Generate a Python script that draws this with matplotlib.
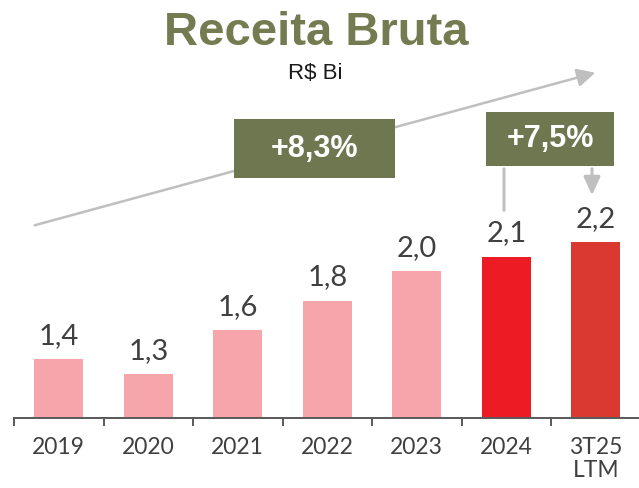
import matplotlib
matplotlib.use("Agg")
import matplotlib.pyplot as plt
from matplotlib.patches import FancyArrowPatch, Rectangle

# Data (R$ bilhões)
categories = ["2019", "2020", "2021", "2022", "2023", "2024", "3T25\nLTM"]
values = [1.4, 1.3, 1.6, 1.8, 2.0, 2.1, 2.2]
value_labels = ["1,4", "1,3", "1,6", "1,8", "2,0", "2,1", "2,2"]
bar_colors = ["#F6A5AA", "#F6A5AA", "#F6A5AA", "#F6A5AA", "#F6A5AA", "#ED1B24", "#D9392E"]
cagr_label = "+8,3%"
yoy_label = "+7,5%"

W, H = 639, 488
fig = plt.figure(figsize=(W / 100, H / 100), dpi=100)
fig.patch.set_facecolor("white")


def fp(x, y):
    """Pixel position (from top-left) to figure fraction."""
    return (x / W, 1 - y / H)


num_font = dict(family=["Lato", "DejaVu Sans"], fontweight="normal", color="#404040")

ax = fig.add_axes([14 / W, 70 / H, 626.5 / W, 418 / H])
ax.set_xlim(-0.5, 6.5)
ax.set_ylim(1.0, 1.0 + 418 / 146.7)
ax.patch.set_alpha(0)

x = list(range(len(categories)))
ax.bar(x, values, width=0.547, color=bar_colors, zorder=2)

for xi, v, lab in zip(x, values, value_labels):
    ax.annotate(lab, (xi, v), xytext=(0, 11), textcoords="offset points",
                ha="center", va="baseline", fontsize=21, **num_font)

for s in ["left", "right", "top"]:
    ax.spines[s].set_visible(False)
ax.spines["bottom"].set_color("#595959")
ax.spines["bottom"].set_linewidth(1.4)
ax.set_yticks([])
ax.set_xticks(x)
ax.set_xticklabels(categories, fontsize=16.5, linespacing=1.1,
                   fontfamily=["Lato", "DejaVu Sans"], fontweight="normal", color="#404040")
ax.tick_params(axis="x", which="major", length=0, pad=14)
ax.set_xticks([i - 0.5 for i in range(len(categories))], minor=True)
ax.tick_params(axis="x", which="minor", length=6, width=1.4, color="#595959", direction="out")

# Title
fig.text(*fp(316.5, 45), "Receita Bruta", ha="center", va="baseline",
         fontsize=34, fontweight="bold", family="Liberation Sans", color="#747B51")
fig.text(*fp(315, 79), "R$ Bi", ha="center", va="baseline",
         fontsize=16, family="Liberation Sans", color="#1A1A1A")

arrow_color = "#BFBFBF"
box_color = "#6F7751"

# Long-term growth arrow
trend = FancyArrowPatch(fp(32, 226), fp(598, 72), transform=fig.transFigure,
                        arrowstyle="-|>,head_length=11,head_width=5.5",
                        color=arrow_color, linewidth=1.8, zorder=3)
fig.add_artist(trend)

# CAGR box
x0, y0 = fp(234, 178)
fig.add_artist(Rectangle((x0, y0), (395 - 234) / W, (178 - 119) / H,
                         transform=fig.transFigure, facecolor=box_color,
                         edgecolor="none", zorder=4))
fig.text(*fp(314.5, 149), cagr_label, ha="center", va="center", fontsize=22,
         fontweight="bold", family="Liberation Sans", color="white", zorder=5)

# Year-over-year box and connectors
x1, y1 = fp(486, 166)
fig.add_artist(Rectangle((x1, y1), (614 - 486) / W, (166 - 112) / H,
                         transform=fig.transFigure, facecolor=box_color,
                         edgecolor="none", zorder=4))
fig.text(*fp(550, 139), yoy_label, ha="center", va="center", fontsize=22,
         fontweight="bold", family="Liberation Sans", color="white", zorder=5)

fig.add_artist(FancyArrowPatch(fp(504, 166), fp(504, 213), transform=fig.transFigure,
                               arrowstyle="-", color=arrow_color, linewidth=2.2, zorder=3))
fig.add_artist(FancyArrowPatch(fp(592, 166), fp(592, 198), transform=fig.transFigure,
                               arrowstyle="-|>,head_length=11,head_width=5",
                               color=arrow_color, linewidth=2.2, zorder=3))

fig.savefig("out.png", dpi=100, facecolor="white")
